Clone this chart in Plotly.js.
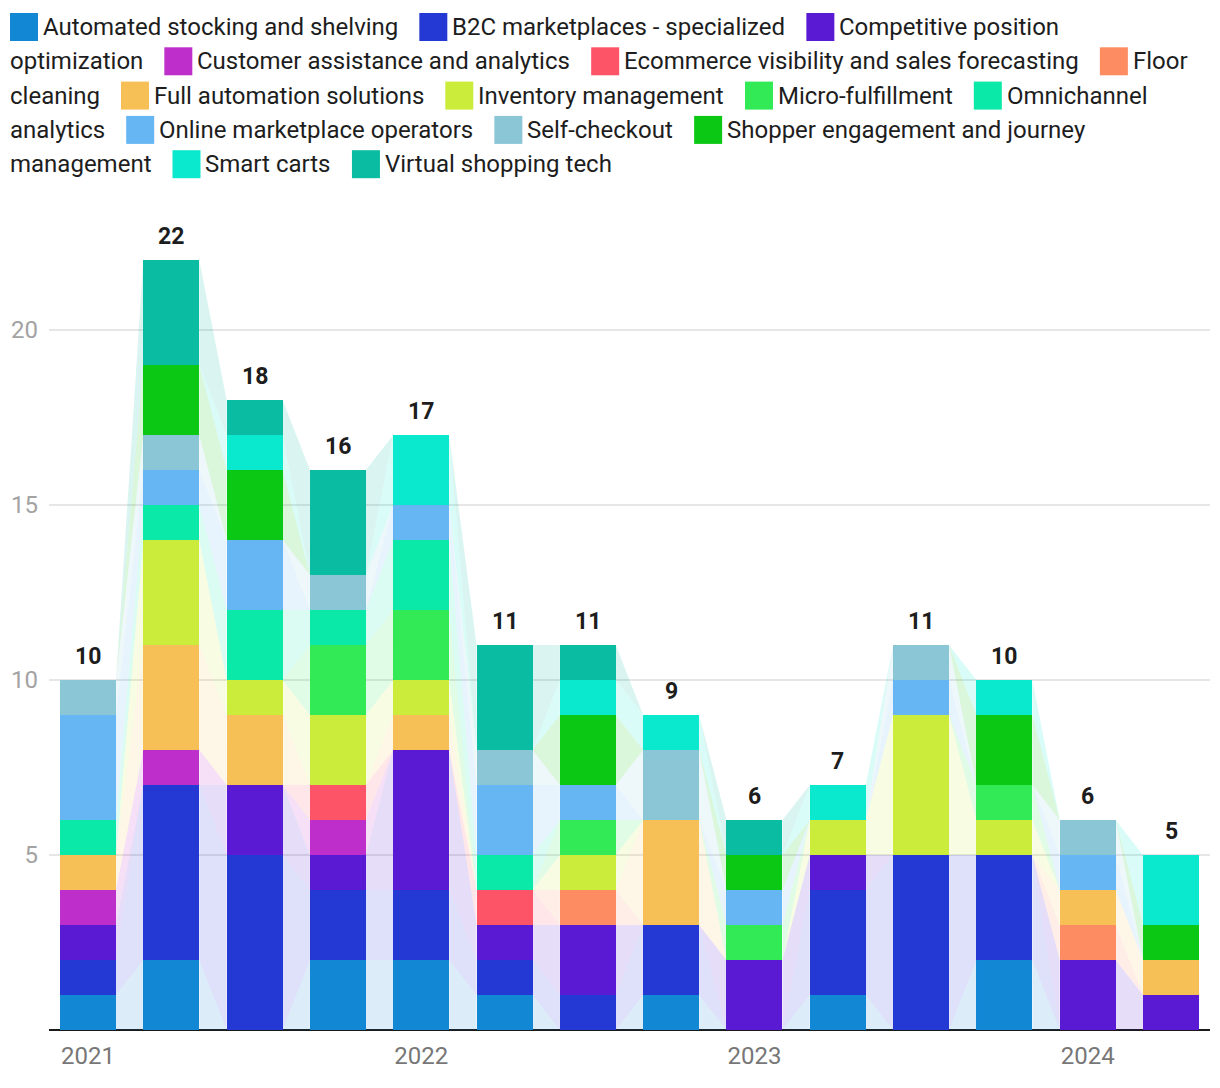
<!DOCTYPE html>
<html>
<head>
<meta charset="utf-8">
<script src="https://cdn.plot.ly/plotly-3.0.1.min.js"></script>
<style>
html,body{margin:0;padding:0;background:#fff;}
#chart{width:1220px;height:1088px;}
</style>
</head>
<body>
<div id="chart"></div>
<script>
// ---------- DATA ----------
const quarters = ['2021 Q1','2021 Q2','2021 Q3','2021 Q4','2022 Q1','2022 Q2','2022 Q3','2022 Q4','2023 Q1','2023 Q2','2023 Q3','2023 Q4','2024 Q1','2024 Q2'];

const seriesNames = [
  'Automated stocking and shelving',
  'B2C marketplaces - specialized',
  'Competitive position optimization',
  'Customer assistance and analytics',
  'Ecommerce visibility and sales forecasting',
  'Floor cleaning',
  'Full automation solutions',
  'Inventory management',
  'Micro-fulfillment',
  'Omnichannel analytics',
  'Online marketplace operators',
  'Self-checkout',
  'Shopper engagement and journey management',
  'Smart carts',
  'Virtual shopping tech'
];

const automatedStocking   = [1,2,0,2,2,1,0,1,0,1,0,2,0,0];
const b2cMarketplaces     = [1,5,5,2,2,1,1,2,0,3,5,3,0,0];
const competitivePosition = [1,0,2,1,4,1,2,0,2,1,0,0,2,1];
const customerAssistance  = [1,1,0,1,0,0,0,0,0,0,0,0,0,0];
const ecommerceVisibility = [0,0,0,1,0,1,0,0,0,0,0,0,0,0];
const floorCleaning       = [0,0,0,0,0,0,1,0,0,0,0,0,1,0];
const fullAutomation      = [1,3,2,0,1,0,0,3,0,0,0,0,1,1];
const inventoryManagement = [0,3,1,2,1,0,1,0,0,1,4,1,0,0];
const microFulfillment    = [0,0,0,2,2,0,1,0,1,0,0,1,0,0];
const omnichannel         = [1,1,2,1,2,1,0,0,0,0,0,0,0,0];
const onlineMarketplace   = [3,1,2,0,1,2,1,0,1,0,1,0,1,0];
const selfCheckout        = [1,1,0,1,0,1,0,2,0,0,1,0,1,0];
const shopperEngagement   = [0,2,2,0,0,0,2,0,1,0,0,2,0,1];
const smartCarts          = [0,0,1,0,2,0,1,1,0,1,0,1,0,2];
const virtualShopping     = [0,3,1,3,0,3,1,0,1,0,0,0,0,0];

const seriesValues = [automatedStocking,b2cMarketplaces,competitivePosition,customerAssistance,
  ecommerceVisibility,floorCleaning,fullAutomation,inventoryManagement,microFulfillment,omnichannel,
  onlineMarketplace,selfCheckout,shopperEngagement,smartCarts,virtualShopping];

const seriesColors = ['#1287d4','#2438d4','#5a1ad4','#be2eca','#fe5468','#fe8c62','#f6c056','#ccec3c',
  '#32ea56','#0ae9a8','#66b6f4','#8ac6d6','#0ac814','#0ae9ce','#0abca2'];

// ---------- LAYOUT CONSTANTS ----------
const W = 1220, H = 1088, ML = 49, MR = 10, MT = 190, MB = 58;
const PW = W - ML - MR, PH = H - MT - MB;
const BAR_W = 0.672;
const FONT = 'Roboto, "Noto Sans", sans-serif';
const xIdx = quarters.map((q,i)=>i);

function rgba(hex, a){
  const n = parseInt(hex.slice(1),16);
  return `rgba(${(n>>16)&255},${(n>>8)&255},${n&255},${a})`;
}

// ---------- TRACES ----------
const traces = [];
const bases = [];
let cum = quarters.map(()=>0);
seriesValues.forEach((vals)=>{
  bases.push(cum.slice());
  cum = cum.map((c,i)=>c+vals[i]);
});
const totals = cum;

// connecting translucent ribbons
seriesValues.forEach((vals,s)=>{
  for(let i=0;i<quarters.length-1;i++){
    if(vals[i]===0 && vals[i+1]===0) continue;
    const xl = xIdx[i] + BAR_W/2, xr = xIdx[i+1] - BAR_W/2;
    const b0 = bases[s][i], t0 = b0 + vals[i];
    const b1 = bases[s][i+1], t1 = b1 + vals[i+1];
    traces.push({
      type:'scatter', mode:'none', fill:'toself',
      x:[xl,xl,xr,xr,xl], y:[b0,t0,t1,b1,b0],
      fillcolor: rgba(seriesColors[s],0.15),
      hoverinfo:'skip', showlegend:false
    });
  }
});

seriesValues.forEach((vals,s)=>{
  traces.push({
    type:'bar', name:seriesNames[s], x:xIdx, y:vals, width:BAR_W,
    marker:{color:seriesColors[s], line:{width:0}},
    showlegend:false, hoverinfo:'skip'
  });
});

// ---------- ANNOTATIONS / SHAPES ----------
const annotations = [];
const shapes = [];
totals.forEach((t,i)=>{
  annotations.push({
    x:xIdx[i], y:t, xref:'x', yref:'y', text:String(t), showarrow:false,
    yanchor:'bottom', yshift:8,
    font:{family:FONT, size:23, color:'#1d1d1d', weight:700}
  });
});

// custom flowing legend
const pxX = px => (px - ML)/PW;
const pxY = py => (H - MB - py)/PH;
const LEG_FS = 24, SW = 28, SW_GAP = 5, ITEM_GAP = 21, LEG_X0 = 10, LEG_MAX = 1198;
const LINE0 = 27, LINE_H = 34.3;
const ctx = document.createElement('canvas').getContext('2d');
ctx.font = `${LEG_FS}px Roboto`;
const measure = t => ctx.measureText(t).width;
let cx = LEG_X0, line = 0;
const segs = [];
seriesNames.forEach((name,k)=>{
  const words = name.split(' ');
  if(k>0) cx += ITEM_GAP;
  const unit = SW + SW_GAP + measure(words[0]);
  if(cx + unit > LEG_MAX && cx > LEG_X0){ line++; cx = LEG_X0; }
  const cy = LINE0 + line*LINE_H;
  shapes.push({type:'rect', xref:'paper', yref:'paper', x0:pxX(cx), x1:pxX(cx+SW),
    y0:pxY(cy+SW/2), y1:pxY(cy-SW/2), fillcolor:seriesColors[k], line:{width:0}});
  let segStart = cx + SW + SW_GAP, segText = words[0];
  cx = segStart + measure(words[0]);
  for(let w=1; w<words.length; w++){
    const ww = measure(' ' + words[w]);
    if(cx + ww > LEG_MAX){
      segs.push({x:segStart, line, text:segText});
      line++; cx = LEG_X0; segStart = cx; segText = words[w]; cx += measure(words[w]);
    } else { segText += ' ' + words[w]; cx += ww; }
  }
  segs.push({x:segStart, line, text:segText});
});
segs.forEach(sg=>{
  annotations.push({
    xref:'paper', yref:'paper', x:pxX(sg.x), y:pxY(LINE0 + sg.line*LINE_H),
    xanchor:'left', yanchor:'middle', text:sg.text, showarrow:false,
    borderpad:0, borderwidth:0,
    font:{family:FONT, size:LEG_FS, color:'#1d1d1d'}
  });
});

// ---------- AXES ----------
const yearTickVals = xIdx.filter(i=>quarters[i].endsWith('Q1'));
const yearTickText = yearTickVals.map(i=>quarters[i].slice(0,4));

const layout = {
  width:W, height:H,
  margin:{l:ML, r:MR, t:MT, b:MB, pad:0},
  paper_bgcolor:'#fff', plot_bgcolor:'#fff',
  barmode:'stack', bargap:0, hovermode:false, showlegend:false,
  font:{family:FONT},
  xaxis:{range:[-0.468, 13.468], tickvals:yearTickVals, ticktext:yearTickText,
    showgrid:false, zeroline:false, showline:false, ticks:'',
    tickfont:{family:FONT, size:24, color:'#777777'}, ticklabelstandoff:9, fixedrange:true},
  yaxis:{range:[0,24], tickvals:[5,10,15,20], showgrid:true, gridcolor:'#e6e6e6', gridwidth:2,
    zeroline:true, zerolinecolor:'#1a1a1a', zerolinewidth:2, showline:false, ticks:'',
    tickfont:{family:FONT, size:24, color:'#a3a3a3'}, ticklabelstandoff:10, fixedrange:true},
  annotations, shapes
};

Plotly.newPlot('chart', traces, layout, {displayModeBar:false, staticPlot:true});
</script>
</body>
</html>
